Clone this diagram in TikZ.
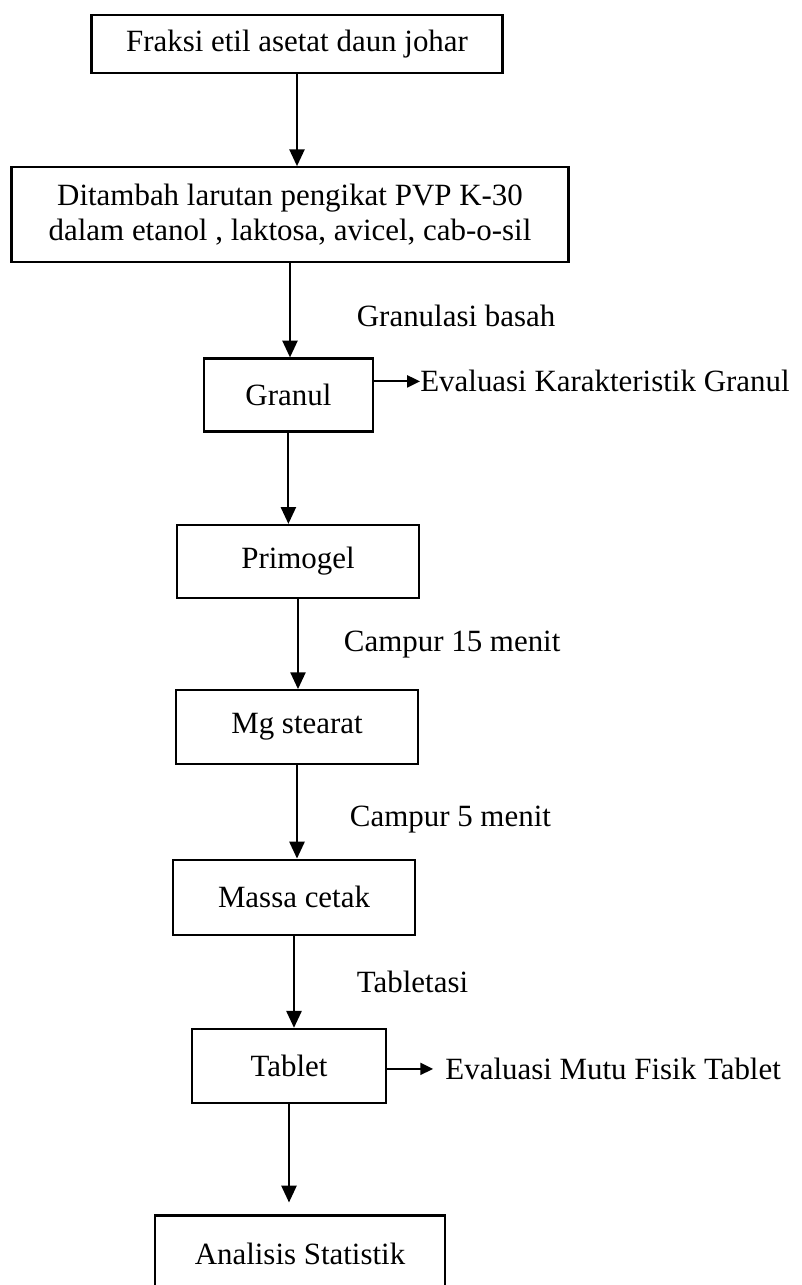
\documentclass[tikz,border=0pt]{standalone}
\usepackage{fontspec}
\setmainfont{Liberation Serif}
\usetikzlibrary{arrows.meta,positioning}
\tikzset{
  kotak/.style={
    draw=black,
    line width=1.6pt,
    fill=white,
    align=center,
    inner sep=3pt,
    minimum height=1.85cm,
    font=\fontsize{22}{25}\selectfont
  },
  keterangan/.style={
    inner sep=0pt,
    anchor=west,
    font=\fontsize{22}{25}\selectfont
  },
  panah/.style={
    -{Triangle[length=4.2mm,width=3.8mm]},
    line width=1.3pt
  },
  panahkecil/.style={
    -{Triangle[length=3.2mm,width=3mm]},
    line width=1.3pt
  }
}

\begin{document}
\begin{tikzpicture}[node distance=2.3cm]
\useasboundingbox (0,0) rectangle (20.025,-32.125);
\clip (0,0) rectangle (20.025,-32.125);
\node[kotak, minimum width=10.275cm, minimum height=1.45cm] (fraksi) at (7.425,-1.1) {Fraksi etil asetat daun johar};
\node[kotak, below=of fraksi, xshift=-0.175cm, minimum width=13.925cm, minimum height=2.375cm] (tambah) {Ditambah larutan pengikat PVP K-30\\dalam etanol , laktosa, avicel, cab-o-sil};
\node[kotak, below=2.35cm of tambah, xshift=-0.04cm, minimum width=4.225cm, minimum height=1.825cm] (granul) {Granul};
\node[kotak, below=2.28cm of granul, xshift=0.24cm, minimum width=6.05cm, minimum height=1.825cm] (primogel) {Primogel};
\node[kotak, below=2.25cm of primogel, xshift=-0.025cm, minimum width=6.05cm] (mg) {Mg stearat};
\node[kotak, below=2.33cm of mg, xshift=-0.075cm, minimum width=6.05cm, minimum height=1.875cm] (massa) {Massa cetak};
\node[kotak, below=of massa, xshift=-0.125cm, minimum width=4.85cm] (tablet) {Tablet};
\node[kotak, below=2.76cm of tablet, xshift=0.275cm, minimum width=7.25cm, minimum height=1.9cm] (analisis) {Analisis Statistik};

% keterangan evaluasi di samping
\node[keterangan, right=1.15cm of granul.east, yshift=0.34cm] (evalgranul) {Evaluasi Karakteristik Granul};
\node[keterangan, right=1.45cm of tablet.east, yshift=-0.075cm] (evaltablet) {Evaluasi Mutu Fisik Tablet};

\draw[panah] (fraksi) -- (fraksi |- tambah.north);
\draw[panah] (tambah) -- (tambah |- granul.north)
  node[keterangan, midway, xshift=1.65cm, yshift=-0.14cm] (granulasi) {Granulasi basah};
\draw[panah] (granul) -- (granul |- primogel.north);
\draw[panah] (primogel) -- (primogel |- mg.north)
  node[keterangan, midway, xshift=1.125cm] (campur15) {Campur 15 menit};
\draw[panah] (mg) -- (mg |- massa.north)
  node[keterangan, midway, xshift=1.3cm, yshift=-0.2cm] (campur5) {Campur 5 menit};
\draw[panah] (massa) -- (massa |- tablet.north)
  node[keterangan, midway, xshift=1.55cm] (tabletasi) {Tabletasi};
\draw[panah, shorten >=0.3cm] (tablet) -- (tablet |- analisis.north);

\draw[panahkecil] (granul.east |- evalgranul.west) -- (evalgranul.west);
\draw[panahkecil, shorten >=0.3cm] (tablet.east |- evaltablet.west) -- (evaltablet.west);
\end{tikzpicture}
\end{document}
